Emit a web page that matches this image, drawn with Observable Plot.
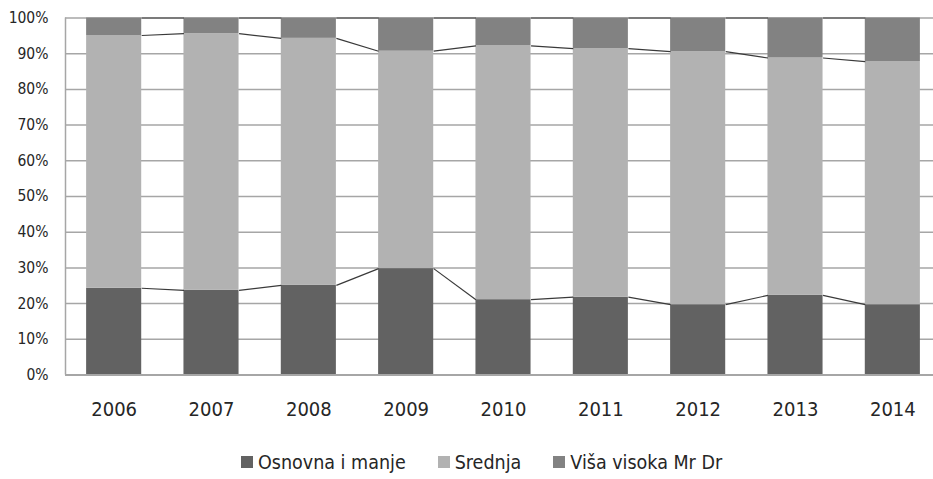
<!DOCTYPE html>
<html>
<head>
<meta charset="utf-8">
<script src="https://cdn.jsdelivr.net/npm/d3@7"></script>
<script src="https://cdn.jsdelivr.net/npm/@observablehq/plot@0.6"></script>
<style>
  body { margin: 0; background: #fff; }
  #chart svg { display: block; }
  .legend { height: 34px; display: flex; align-items: center; padding-left: 241px;
    font-family: "DejaVu Sans Condensed", "DejaVu Sans", sans-serif; font-stretch: condensed;
    font-size: 19.5px; color: #262626; }
  .legend .item { display: flex; align-items: center; margin-right: 32px; }
  .legend .sw { width: 12px; height: 12px; margin-right: 5px; }
</style>
</head>
<body>
<div id="chart"></div>
<script>
const years = ["2006","2007","2008","2009","2010","2011","2012","2013","2014"];
const seriesNames = ["Osnovna i manje", "Srednja", "Viša visoka Mr Dr"];
const osnovna = [24.3, 23.7, 25.1, 29.8, 21.1, 21.8, 19.7, 22.3, 19.7];
const srednja = [70.8, 71.9, 69.2, 60.9, 71.1, 69.6, 70.9, 66.5, 68.1];
const visa    = [4.9, 4.4, 5.7, 9.3, 7.8, 8.6, 9.4, 11.2, 12.2];
const colors = ["#626262", "#b2b2b2", "#828282"];
const yTicks = [0,10,20,30,40,50,60,70,80,90,100];

const hw = 0.283; // half bar width in category units
const series = [osnovna, srednja, visa];

// stacked rectangles (normalized to 100%)
const rects = [];
const tops = [[], [], []];
years.forEach((yr, i) => {
  const total = osnovna[i] + srednja[i] + visa[i];
  let acc = 0;
  series.forEach((s, k) => {
    const v = s[i] / total * 100;
    rects.push({i, series: seriesNames[k], y1: acc, y2: acc + v});
    acc += v;
    tops[k].push(acc);
  });
});

// series lines between bars
const links = [];
tops.forEach((t, k) => {
  for (let i = 0; i < years.length - 1; i++) {
    links.push({x1: i + hw, y1: t[i], x2: i + 1 - hw, y2: t[i + 1]});
  }
});

const font = `"DejaVu Sans Condensed", "DejaVu Sans", sans-serif`;

const plot = Plot.plot({
  width: 933,
  height: 445,
  marginLeft: 65,
  marginRight: -8,
  marginTop: 17.5,
  marginBottom: 70.5,
  style: {fontFamily: font, color: "#262626", background: "#fff", fontStretch: "condensed"},
  x: {type: "linear", domain: [-0.5, years.length - 0.5]},
  y: {domain: [0, 100]},
  color: {domain: seriesNames, range: colors},
  marks: [
    Plot.ruleY(yTicks, {stroke: "#a6a6a6", strokeWidth: 1.5}),
    Plot.ruleX([-0.5], {stroke: "#a6a6a6", strokeWidth: 1.5}),
    Plot.rectY(rects, {x1: d => d.i - hw, x2: d => d.i + hw, y1: "y1", y2: "y2", fill: "series", inset: 0}),
    Plot.link(links, {x1: "x1", y1: "y1", x2: "x2", y2: "y2", stroke: "#3a3a3a", strokeWidth: 1.2}),
    Plot.ruleY([0], {stroke: "#a6a6a6", strokeWidth: 2}),
    Plot.axisY({ticks: yTicks, tickFormat: d => d + "%", tickSize: 0, tickPadding: 17, fontSize: 15.5, fill: "#262626"}),
    Plot.axisX({ticks: d3.range(years.length), tickFormat: i => years[i], tickSize: 0, tickPadding: 27, fontSize: 20, fill: "#262626"})
  ]
});
document.getElementById("chart").appendChild(plot);

const legend = document.createElement("div");
legend.className = "legend";
seriesNames.forEach((n, k) => {
  const it = document.createElement("div");
  it.className = "item";
  const sw = document.createElement("div");
  sw.className = "sw";
  sw.style.background = colors[k];
  const tx = document.createElement("span");
  tx.textContent = n;
  it.appendChild(sw); it.appendChild(tx);
  legend.appendChild(it);
});
document.body.appendChild(legend);
</script>
</body>
</html>
